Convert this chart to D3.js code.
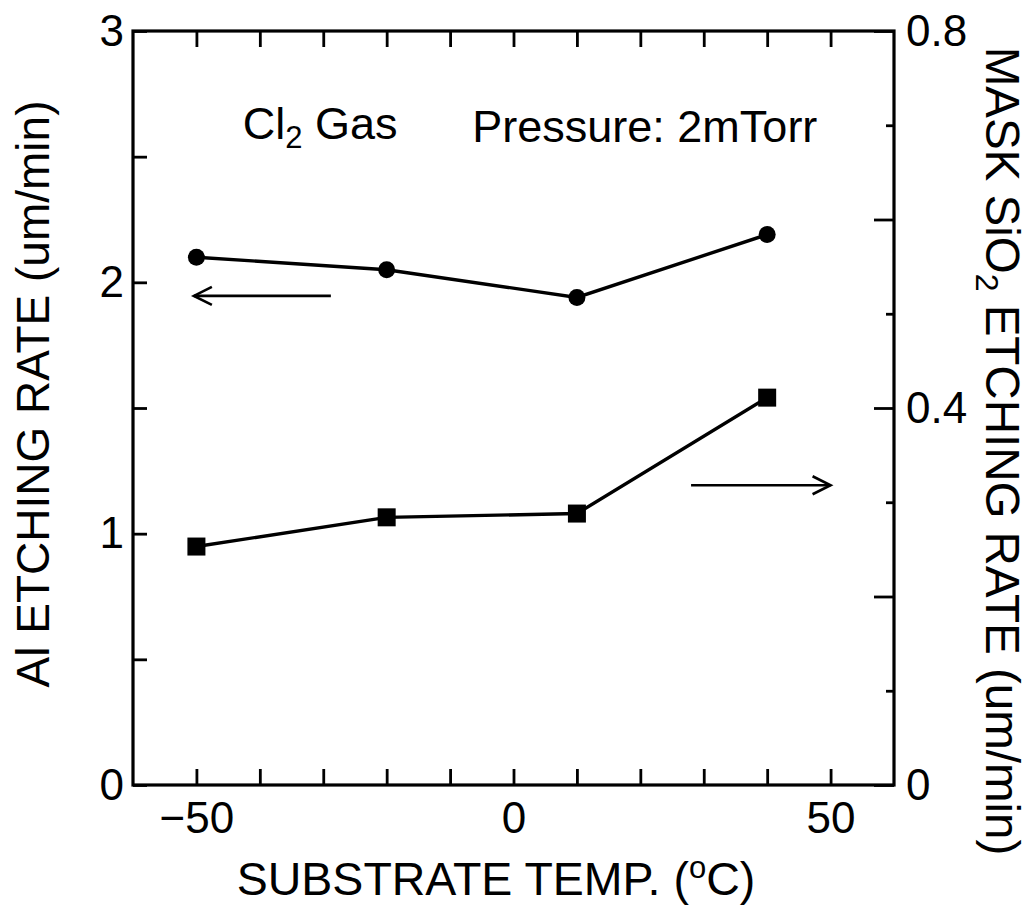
<!DOCTYPE html>
<html>
<head>
<meta charset="utf-8">
<script src="https://cdn.jsdelivr.net/npm/d3@7/dist/d3.min.js"></script>
<style>
  html, body { margin: 0; padding: 0; background: #fff; }
  svg { display: block; }
  text { font-family: "Liberation Sans", Arial, Helvetica, sans-serif; fill: #000; }
</style>
</head>
<body>
<svg id="chart" width="1032" height="910"></svg>
<script>
// ---- data ----
const temps = [-50, -20, 10, 40];                 // substrate temperature (°C)
const alRate = [2.10, 2.05, 1.94, 2.19];          // Al etching rate (um/min), left axis, circles
const sio2Rate = [0.253, 0.284, 0.288, 0.411];    // mask SiO2 etching rate (um/min), right axis, squares

const xTicks = [-50, -40, -30, -20, -10, 0, 10, 20, 30, 40, 50];
const xTickLabels = [-50, 0, 50];
const leftTicks = [0, 0.5, 1, 1.5, 2, 2.5, 3];
const leftTickLabels = [0, 1, 2, 3];
const rightTicks = [0, 0.1, 0.2, 0.3, 0.4, 0.5, 0.6, 0.7, 0.8];
const rightMajor = [0, 0.2, 0.4, 0.6, 0.8];
const rightTickLabels = [0, 0.4, 0.8];

const xTitle = "SUBSTRATE TEMP. (";
const leftTitle = "Al ETCHING RATE (um/min)";

// ---- layout ----
const svg = d3.select("#chart");
const X0 = 133, X1 = 894, Y0 = 785, Y1 = 31;

const x = d3.scaleLinear().domain([-60, 60]).range([X0, X1]);
const yL = d3.scaleLinear().domain([0, 3]).range([Y0, Y1]);
const yR = d3.scaleLinear().domain([0, 0.8]).range([Y0, Y1]);

// bottom axis (ticks inward)
const gB = svg.append("g").attr("transform", `translate(0,${Y0})`)
  .call(d3.axisBottom(x).tickValues(xTicks).tickSize(-16).tickPadding(17)
    .tickFormat(d => xTickLabels.includes(d) ? d3.format("")(d).replace("-", "\u2212") : ""));
// top axis ticks
const gT = svg.append("g").attr("transform", `translate(0,${Y1})`)
  .call(d3.axisTop(x).tickValues(xTicks).tickSize(-16).tickFormat(""));
// left axis
const gL = svg.append("g").attr("transform", `translate(${X0},0)`)
  .call(d3.axisLeft(yL).tickValues(leftTicks).tickSize(-14).tickPadding(9)
    .tickFormat(d => leftTickLabels.includes(d) ? String(d) : ""));
// right axis
const gR = svg.append("g").attr("transform", `translate(${X1},0)`)
  .call(d3.axisRight(yR).tickValues(rightTicks).tickSize(-20).tickPadding(12)
    .tickFormat(d => rightTickLabels.includes(d) ? (d === 0 ? "0" : d3.format(".1f")(d)) : ""));
gR.selectAll(".tick line").attr("x2", d => rightMajor.some(m => Math.abs(m - d) < 1e-9) ? -20 : -8);

[gB, gT, gL, gR].forEach(g => {
  g.select(".domain").remove();
  g.selectAll(".tick line").attr("stroke", "#000").attr("stroke-width", 2.8);
  g.selectAll(".tick text").attr("font-size", 44).attr("font-family", '"Liberation Sans", Arial, sans-serif').attr("fill", "#000");
});

// frame
svg.append("rect").attr("x", X0).attr("y", Y1).attr("width", X1 - X0).attr("height", Y0 - Y1)
  .attr("fill", "none").attr("stroke", "#000").attr("stroke-width", 3.2);

// ---- series ----
const alPts = temps.map((t, i) => [t, alRate[i]]);
const siPts = temps.map((t, i) => [t, sio2Rate[i]]);

svg.append("path").datum(alPts)
  .attr("d", d3.line().x(d => x(d[0])).y(d => yL(d[1])))
  .attr("fill", "none").attr("stroke", "#000").attr("stroke-width", 3.4);
svg.append("g").selectAll("circle").data(alPts).join("circle")
  .attr("cx", d => x(d[0])).attr("cy", d => yL(d[1])).attr("r", 8.5).attr("fill", "#000");

svg.append("path").datum(siPts)
  .attr("d", d3.line().x(d => x(d[0])).y(d => yR(d[1])))
  .attr("fill", "none").attr("stroke", "#000").attr("stroke-width", 3.4);
const sq = 18;
svg.append("g").selectAll("rect").data(siPts).join("rect")
  .attr("x", d => x(d[0]) - sq / 2).attr("y", d => yR(d[1]) - sq / 2)
  .attr("width", sq).attr("height", sq).attr("fill", "#000");

// ---- arrows (annotation, in data units) ----
function arrow(xFrom, xTo, yVal, scaleY) {
  const y0 = scaleY(yVal), a = x(xFrom), b = x(xTo);
  const dir = Math.sign(b - a);
  svg.append("line").attr("x1", a).attr("y1", y0).attr("x2", b).attr("y2", y0)
    .attr("stroke", "#000").attr("stroke-width", 2.6);
  svg.append("path")
    .attr("d", `M${b - dir * 18},${y0 - 9} L${b},${y0} L${b - dir * 18},${y0 + 9}`)
    .attr("fill", "none").attr("stroke", "#000").attr("stroke-width", 2.6);
}
arrow(-28.8, -50.4, 1.946, yL);
arrow(28.0, 50.0, 0.318, yR);

// ---- annotations ----
const t1 = svg.append("text").attr("x", x(-42.7)).attr("y", yL(2.57)).attr("font-size", 45);
t1.append("tspan").text("Cl");
t1.append("tspan").attr("font-size", 31).attr("dy", 9).text("2");
t1.append("tspan").attr("dy", -9).text(" Gas");

svg.append("text").attr("x", x(-6.5)).attr("y", yL(2.56)).attr("font-size", 45)
  .text("Pressure: 2mTorr");

// ---- axis titles ----
const xt = svg.append("text").attr("x", 496).attr("y", 895).attr("text-anchor", "middle").attr("font-size", 46.5);
xt.append("tspan").text(xTitle);
xt.append("tspan").attr("font-size", 31).attr("dy", -17).text("o");
xt.append("tspan").attr("dy", 17).text("C)");

svg.append("text").attr("transform", "translate(49,394) rotate(-90)")
  .attr("text-anchor", "middle").attr("font-size", 46).text(leftTitle);

const rt = svg.append("text").attr("transform", "translate(986,451) rotate(90)")
  .attr("text-anchor", "middle").attr("font-size", 47.5);
rt.append("tspan").text("MASK SiO");
rt.append("tspan").attr("font-size", 32).attr("dy", 10).text("2");
rt.append("tspan").attr("dy", -10).text(" ETCHING RATE (um/min)");
</script>
</body>
</html>
